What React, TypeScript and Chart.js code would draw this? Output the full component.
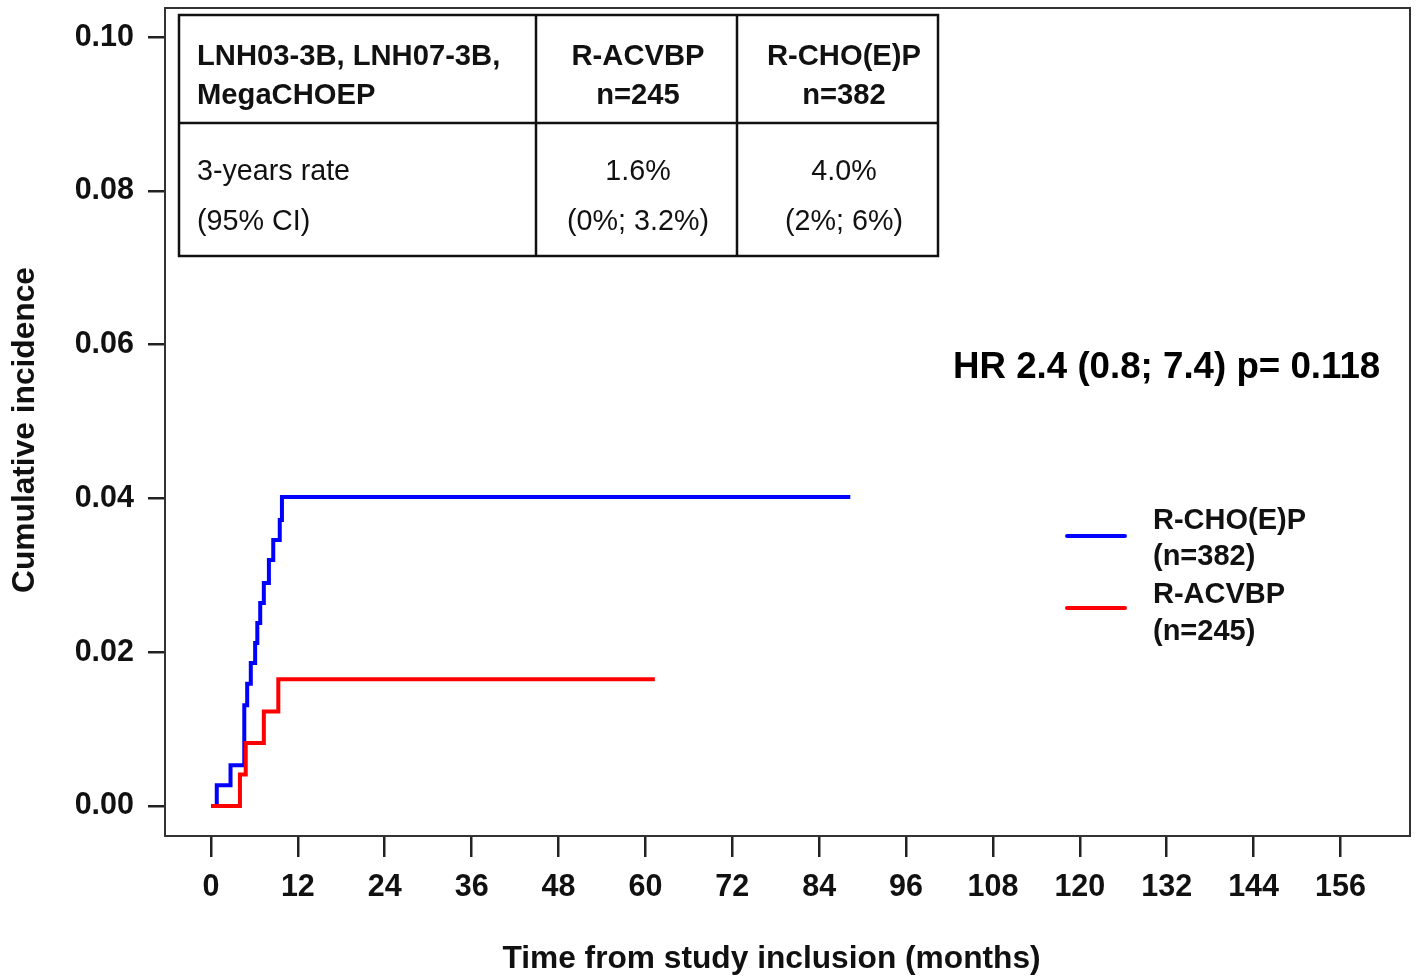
import React, { useEffect, useRef } from "react";
import { Chart, registerables } from "chart.js";

Chart.register(...registerables);

// ---------- data ----------
const xTickValues = [0, 12, 24, 36, 48, 60, 72, 84, 96, 108, 120, 132, 144, 156];
const yTickValues = [0, 0.02, 0.04, 0.06, 0.08, 0.1];

const rchoepTimes = [0, 0.8, 2.7, 4.6, 5.0, 5.5, 6.1, 6.4, 6.8, 7.3, 8.0, 8.6, 9.5, 9.8, 88.3];
const rchoepValues = [0, 0.0027, 0.0053, 0.0131, 0.0159, 0.0186, 0.0212, 0.0238, 0.0264, 0.029, 0.032, 0.0346, 0.0372, 0.0402, 0.0402];

const racvbpTimes = [0, 4.0, 4.8, 7.3, 9.3, 61.3];
const racvbpValues = [0, 0.0041, 0.0082, 0.0123, 0.0165, 0.0165];

const seriesNames = ["R-CHO(E)P", "R-ACVBP"];
const seriesCounts = ["(n=382)", "(n=245)"];

const tableHeader = [
  ["LNH03-3B, LNH07-3B,", "MegaCHOEP"],
  ["R-ACVBP", "n=245"],
  ["R-CHO(E)P", "n=382"],
];
const tableBody = [
  ["3-years rate", "(95% CI)"],
  ["1.6%", "(0%; 3.2%)"],
  ["4.0%", "(2%; 6%)"],
];

const hrText = "HR 2.4 (0.8; 7.4) p= 0.118";
const xTitle = "Time from study inclusion (months)";
const yTitle = "Cumulative incidence";

// ---------- style ----------
const FONT = '"Liberation Sans", Arial, sans-serif';
const BLUE = "#0000ff";
const RED = "#ff0000";

const overlayPlugin = {
  id: "overlay",
  afterDraw(chart: any) {
    const { ctx, chartArea: a } = chart;
    ctx.save();
    // plot box
    ctx.strokeStyle = "#333";
    ctx.lineWidth = 2;
    ctx.strokeRect(a.left, a.top, a.right - a.left, a.bottom - a.top);

    // table
    const L = a.left;
    const T = a.top;
    const xs = [L + 14, L + 371, L + 572, L + 773];
    const ys = [T + 7, T + 115, T + 248];
    ctx.strokeStyle = "#111";
    ctx.lineWidth = 2.5;
    ctx.strokeRect(xs[0], ys[0], xs[3] - xs[0], ys[2] - ys[0]);
    ctx.beginPath();
    ctx.moveTo(xs[0], ys[1]);
    ctx.lineTo(xs[3], ys[1]);
    ctx.moveTo(xs[1], ys[0]);
    ctx.lineTo(xs[1], ys[2]);
    ctx.moveTo(xs[2], ys[0]);
    ctx.lineTo(xs[2], ys[2]);
    ctx.stroke();

    ctx.fillStyle = "#111";
    ctx.textBaseline = "alphabetic";
    const colCenters = [0, L + 473, L + 679];
    const headBase = [T + 57, T + 96];
    const bodyBase = [T + 172, T + 222];
    ctx.font = `bold 29.2px ${FONT}`;
    ctx.textAlign = "left";
    tableHeader[0].forEach((s, i) => ctx.fillText(s, xs[0] + 18, headBase[i]));
    ctx.textAlign = "center";
    for (let c = 1; c < 3; c++) {
      tableHeader[c].forEach((s, i) => ctx.fillText(s, colCenters[c], headBase[i]));
    }
    ctx.font = `28.7px ${FONT}`;
    ctx.textAlign = "left";
    tableBody[0].forEach((s, i) => ctx.fillText(s, xs[0] + 18, bodyBase[i]));
    ctx.textAlign = "center";
    for (let c = 1; c < 3; c++) {
      tableBody[c].forEach((s, i) => ctx.fillText(s, colCenters[c], bodyBase[i]));
    }

    // HR text
    ctx.fillStyle = "#000";
    ctx.font = `bold 36.7px ${FONT}`;
    ctx.textAlign = "left";
    ctx.fillText(hrText, L + 788, T + 370);

    // legend
    const legendColors = [BLUE, RED];
    const lineY = [T + 528, T + 600];
    ctx.lineCap = "round";
    ctx.lineWidth = 4;
    legendColors.forEach((col, i) => {
      ctx.strokeStyle = col;
      ctx.beginPath();
      ctx.moveTo(L + 902, lineY[i]);
      ctx.lineTo(L + 960, lineY[i]);
      ctx.stroke();
    });
    ctx.font = `bold 29px ${FONT}`;
    ctx.fillStyle = "#111";
    const textBase = [T + 521, T + 557, T + 595, T + 632];
    ctx.fillText(seriesNames[0], L + 988, textBase[0]);
    ctx.fillText(seriesCounts[0], L + 988, textBase[1]);
    ctx.fillText(seriesNames[1], L + 988, textBase[2]);
    ctx.fillText(seriesCounts[1], L + 988, textBase[3]);

    // axis titles
    ctx.font = `bold 31.7px ${FONT}`;
    ctx.textAlign = "center";
    ctx.fillText(xTitle, (a.left + a.right) / 2 - 16, 968);
    ctx.save();
    ctx.translate(34, 430);
    ctx.rotate(-Math.PI / 2);
    ctx.font = `bold 31.7px ${FONT}`;
    ctx.fillText(yTitle, 0, 0);
    ctx.restore();

    ctx.restore();
  },
};

export default function App() {
  const ref = useRef<HTMLCanvasElement | null>(null);

  useEffect(() => {
    if (!ref.current) return;
    const toPoints = (t: number[], v: number[]) => t.map((x, i) => ({ x, y: v[i] }));
    const chart = new Chart(ref.current, {
      type: "line",
      data: {
        datasets: [
          {
            label: seriesNames[1],
            data: toPoints(racvbpTimes, racvbpValues),
            borderColor: RED,
            borderWidth: 4,
            pointRadius: 0,
            stepped: true,
            fill: false,
          },
          {
            label: seriesNames[0],
            data: toPoints(rchoepTimes, rchoepValues),
            borderColor: BLUE,
            borderWidth: 4,
            pointRadius: 0,
            stepped: true,
            fill: false,
          },
        ],
      },
      options: {
        animation: false,
        responsive: true,
        maintainAspectRatio: false,
        layout: { padding: { left: 0, top: 8, right: 6, bottom: 0 } },
        plugins: {
          legend: { display: false },
          tooltip: { enabled: false },
          title: { display: false },
        },
        scales: {
          x: {
            type: "linear",
            min: -6.35,
            max: 165.6,
            afterFit: (s: any) => {
              s.height = 140;
              s.paddingLeft = 0;
              s.paddingRight = 0;
            },
            afterBuildTicks: (s: any) => {
              s.ticks = xTickValues.map((value) => ({ value }));
            },
            grid: {
              display: true,
              drawOnChartArea: false,
              drawTicks: true,
              tickLength: 21,
              color: "#222",
              lineWidth: 2.5,
            },
            border: { display: false },
            ticks: {
              color: "#111",
              font: { family: FONT, size: 30.5, weight: "bold" },
              padding: 12,
              maxRotation: 0,
              autoSkip: false,
              callback: (v: any) => String(v),
            },
          },
          y: {
            type: "linear",
            min: -0.0039,
            max: 0.1038,
            afterFit: (s: any) => {
              s.width = 165;
              s.paddingTop = 0;
              s.paddingBottom = 0;
            },
            afterBuildTicks: (s: any) => {
              s.ticks = yTickValues.map((value) => ({ value }));
            },
            grid: {
              display: true,
              drawOnChartArea: false,
              drawTicks: true,
              tickLength: 17,
              color: "#222",
              lineWidth: 2.5,
            },
            border: { display: false },
            ticks: {
              color: "#111",
              font: { family: FONT, size: 30.5, weight: "bold" },
              padding: 14,
              autoSkip: false,
              callback: (v: any) => Number(v).toFixed(2),
            },
          },
        },
      },
      plugins: [overlayPlugin],
    } as any);
    return () => chart.destroy();
  }, []);

  return (
    <div style={{ position: "fixed", left: 0, top: 0, width: 1416, height: 976, background: "#fff" }}>
      <canvas ref={ref} />
    </div>
  );
}
